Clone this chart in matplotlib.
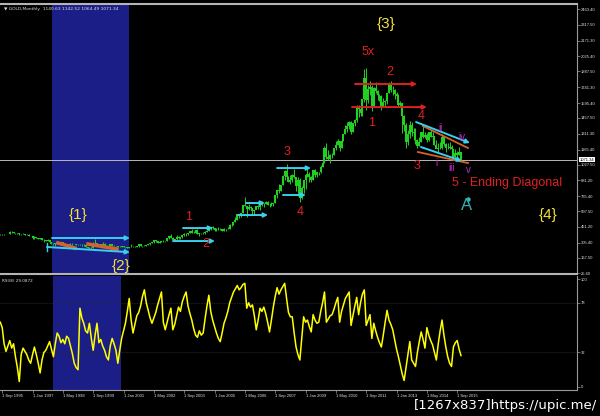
import numpy as np
import matplotlib.pyplot as plt

# GOLD monthly, Aug 1995 .. Nov 2015 (one value per bar)
closes = [382, 384, 383, 387, 387,
          405, 400, 396, 392, 391, 382, 385, 387, 379, 379, 371, 369,
          345, 358, 348, 340, 345, 334, 326, 325, 332, 311, 296, 290,
          304, 297, 301, 310, 293, 296, 289, 273, 294, 292, 294, 288,
          287, 287, 280, 286, 268, 261, 255, 255, 299, 299, 292, 290,
          283, 293, 278, 275, 273, 289, 276, 277, 273, 264, 270, 273,
          265, 267, 258, 264, 266, 270, 265, 273, 293, 279, 275, 277,
          282, 297, 302, 308, 326, 318, 304, 312, 324, 317, 319, 347,
          368, 347, 334, 336, 361, 346, 354, 375, 388, 384, 398, 417,
          399, 396, 426, 388, 394, 395, 391, 408, 416, 429, 453, 438,
          422, 434, 428, 435, 417, 435, 429, 433, 473, 470, 495, 513,
          568, 556, 582, 654, 643, 613, 633, 624, 599, 604, 646, 632,
          651, 665, 663, 679, 656, 650, 666, 672, 743, 789, 783, 834,
          923, 971, 916, 864, 885, 928, 913, 833, 880, 718, 814, 882,
          927, 942, 916, 883, 979, 927, 955, 955, 1001, 1040, 1182, 1097,
          1081, 1118, 1113, 1179, 1212, 1244, 1181, 1246, 1307, 1357, 1384, 1421,
          1332, 1410, 1439, 1556, 1536, 1500, 1628, 1826, 1620, 1722, 1746, 1564,
          1737, 1709, 1668, 1664, 1560, 1604, 1614, 1687, 1773, 1719, 1713, 1675,
          1663, 1578, 1597, 1472, 1393, 1234, 1313, 1396, 1327, 1323, 1253, 1202,
          1240, 1326, 1284, 1296, 1250, 1327, 1282, 1287, 1210, 1172, 1183, 1184,
          1283, 1213, 1183, 1183, 1190, 1172, 1095, 1134, 1115, 1140.63, 1071.34]
highs = [390, 387, 387, 390, 389,
         418, 416, 404, 398, 394, 392, 389, 391, 388, 386, 383, 372,
         369, 366, 360, 348, 351, 347, 336, 330, 336, 335, 311, 301,
         307, 306, 303, 316, 310, 300, 298, 289, 300, 299, 298, 298,
         292, 291, 290, 293, 290, 268, 263, 262, 311, 340, 301, 297,
         292, 316, 302, 287, 279, 294, 291, 282, 279, 274, 271, 276,
         274, 269, 270, 264, 291, 272, 271, 279, 294, 293, 278, 281,
         286, 298, 303, 309, 328, 332, 322, 317, 325, 328, 324, 349,
         370, 389, 355, 341, 377, 366, 361, 377, 391, 392, 399, 417,
         429, 411, 427, 428, 395, 399, 409, 416, 418, 430, 455, 457,
         437, 438, 446, 437, 436, 443, 430, 447, 474, 475, 497, 539,
         575, 574, 584, 654, 730, 645, 663, 649, 627, 604, 649, 650,
         656, 690, 672, 692, 687, 671, 684, 674, 746, 795, 845, 838,
         933, 974, 1032, 922, 935, 944, 988, 915, 912, 905, 826, 884,
         930, 1007, 961, 917, 980, 990, 961, 962, 1024, 1070, 1195, 1227,
         1161, 1127, 1135, 1180, 1249, 1265, 1212, 1251, 1308, 1388, 1424, 1431,
         1425, 1411, 1448, 1575, 1577, 1554, 1632, 1912, 1920, 1760, 1803, 1764,
         1745, 1790, 1712, 1676, 1669, 1641, 1627, 1692, 1790, 1796, 1754, 1722,
         1694, 1675, 1616, 1599, 1488, 1415, 1347, 1434, 1424, 1361, 1362, 1267,
         1280, 1332, 1392, 1331, 1315, 1332, 1345, 1324, 1287, 1255, 1223, 1238,
         1307, 1294, 1224, 1224, 1232, 1205, 1174, 1170, 1157, 1191, 1142.52]
lows = [380, 381, 381, 382, 384,
        387, 394, 393, 388, 389, 380, 380, 384, 378, 375, 368, 365,
        344, 342, 345, 338, 340, 331, 313, 318, 320, 308, 290, 283,
        279, 289, 290, 300, 292, 283, 287, 271, 273, 287, 291, 286,
        283, 283, 278, 279, 268, 257, 252, 252, 254, 295, 290, 285,
        281, 284, 276, 274, 265, 272, 275, 273, 269, 263, 262, 265,
        262, 256, 255, 254, 262, 264, 264, 267, 269, 278, 270, 274,
        277, 281, 287, 300, 307, 311, 302, 302, 310, 316, 313, 317,
        343, 345, 320, 325, 335, 342, 343, 353, 370, 370, 379, 398,
        392, 391, 391, 386, 371, 382, 387, 386, 401, 414, 427, 430,
        418, 411, 426, 423, 414, 415, 418, 429, 433, 459, 469, 493,
        517, 538, 540, 582, 645, 542, 607, 613, 560, 563, 616, 615,
        603, 645, 637, 663, 652, 637, 648, 647, 671, 722, 762, 784,
        834, 880, 906, 865, 849, 863, 905, 786, 736, 681, 705, 769,
        801, 916, 865, 865, 883, 915, 908, 930, 948, 1003, 1044, 1075,
        1073, 1044, 1088, 1115, 1165, 1205, 1155, 1176, 1242, 1313, 1332, 1357,
        1308, 1327, 1381, 1419, 1462, 1478, 1479, 1604, 1534, 1599, 1668, 1523,
        1562, 1692, 1627, 1612, 1527, 1556, 1555, 1589, 1687, 1701, 1672, 1636,
        1626, 1555, 1565, 1321, 1338, 1180, 1206, 1270, 1291, 1251, 1221, 1182,
        1202, 1238, 1277, 1268, 1240, 1241, 1282, 1274, 1206, 1183, 1132, 1170,
        1167, 1198, 1142, 1175, 1169, 1162, 1077, 1080, 1099, 1111, 1064.49]
first_open = 384

rsi = [60, 55, 40, 33, 38, 43, 36, 40, 28, 18, 5, 30, 36, 33, 30, 25, 22, 30, 37, 30,
       22, 13, 25, 32, 34, 38, 42, 35, 28, 40, 50, 47, 41, 44, 40, 47, 45, 38, 31, 22,
       18, 16, 73, 64, 59, 52, 50, 59, 45, 34, 48, 59, 41, 44, 38, 34, 28, 25, 38, 45,
       40, 34, 22, 34, 45, 52, 59, 70, 82, 62, 50, 58, 66, 69, 75, 84, 90, 78, 71, 64,
       59, 64, 69, 76, 82, 88, 60, 53, 60, 67, 73, 53, 58, 66, 74, 70, 79, 84, 88, 75,
       68, 62, 54, 48, 46, 52, 48, 50, 63, 75, 85, 70, 62, 56, 50, 45, 42, 50, 59, 64,
       70, 78, 83, 88, 91, 94, 90, 92, 95, 96, 73, 78, 74, 76, 66, 53, 62, 73, 70, 74,
       68, 60, 51, 62, 74, 84, 92, 86, 90, 93, 96, 82, 69, 65, 65, 50, 37, 30, 25, 45,
       65, 60, 62, 56, 51, 67, 62, 59, 60, 70, 78, 88, 60, 63, 66, 67, 72, 78, 83, 60,
       70, 76, 82, 85, 88, 57, 66, 75, 83, 67, 78, 86, 90, 57, 62, 67, 45, 59, 52, 46,
       41, 37, 48, 60, 71, 62, 58, 53, 44, 35, 28, 20, 12, 6, 18, 30, 42, 25, 22, 19,
       32, 42, 51, 44, 36, 55, 48, 43, 39, 32, 25, 40, 52, 62, 48, 37, 28, 22, 19, 37,
       41, 43, 35, 29.09]

price_ticks = [2463.40, 2317.50, 2171.30, 2025.40, 1887.50, 1741.30, 1595.40, 1457.50,
               1311.30, 1165.40, 1027.50, 881.20, 735.40, 597.50, 451.20, 305.40, 167.50, 25.60]
rsi_ticks = [100, 78, 32, 0]
date_pos = [1, 17, 33, 49, 65, 81, 97, 113, 129, 145, 161, 177, 193, 209, 225, 241]
date_labels = ['1 Sep 1995', '1 Jan 1997', '1 May 1998', '1 Sep 1999', '1 Jan 2001',
               '1 May 2002', '1 Sep 2003', '1 Jan 2005', '1 May 2006', '1 Sep 2007',
               '1 Jan 2009', '1 May 2010', '1 Sep 2011', '1 Jan 2013', '1 May 2014',
               '1 Sep 2015']
last_price = 1071.34

GREEN = '#22d022'
CYAN = '#38d0ec'
RED = '#e02020'
YEL = '#f2e23a'
MAG = '#c428c8'
ORANGE = '#d8602a'
NAVY = '#1c1e88'
GRID = '#9a9a9a'

plt.rcParams['font.family'] = ['Liberation Sans', 'DejaVu Sans']

fig = plt.figure(figsize=(6, 4.16), dpi=100, facecolor='black')
ax = fig.add_axes([0, 0.3413, 0.9617, 0.649])
ax2 = fig.add_axes([0, 0.0625, 0.9617, 0.274])

n = len(closes)
idx = np.arange(n)
opens = np.r_[first_open, closes[:-1]]
xlim = (-0.16, 304.2)

for a in (ax, ax2):
    a.set_facecolor('black')
    a.set_xlim(*xlim)
    a.spines['left'].set_visible(False)
    a.spines['right'].set_color(GRID)
    a.yaxis.tick_right()
    a.tick_params(axis='y', colors=GRID, labelcolor='#e0e0e0', labelsize=3,
                  length=2, width=0.5, pad=1)

# main price window
ax.set_ylim(16.4, 2509.5)
ax.spines['top'].set_color('#b4b4b4')
ax.spines['top'].set_linewidth(1.5)
ax.spines['bottom'].set_color('#b4b4b4')
ax.spines['bottom'].set_linewidth(1.5)
ax.set_xticks([])
ax.set_yticks(price_ticks)
ax.set_yticklabels(['%.2f' % v for v in price_ticks])
ax.axvspan(27.3, 67.9, color=NAVY, lw=0, zorder=0)
ax.axhline(last_price, color='#b8b8b8', lw=0.7, zorder=1)

ax.vlines(idx, lows, highs, color=GREEN, lw=0.7, zorder=3)
ax.vlines(idx, np.minimum(opens, closes), np.maximum(opens, closes),
          color=GREEN, lw=1.5, zorder=3)

ax.text(1.005, (last_price - 16.4) / (2509.5 - 16.4), '%.2f' % last_price,
        transform=ax.transAxes, fontsize=3, color='black', va='center', ha='left',
        bbox=dict(boxstyle='square,pad=0.15', fc='white', ec='none'), clip_on=False)


def arrow(a, x0, y0, x1, y1, color):
    a.annotate('', xy=(x1, y1), xytext=(x0, y0), zorder=5,
               arrowprops=dict(arrowstyle='-|>', color=color, lw=1.4,
                               mutation_scale=6, shrinkA=0, shrinkB=0))


# channel / target lines
ax.plot([30.4, 39.4], [303, 256], color=ORANGE, lw=2.6, zorder=4)
ax.plot([46.3, 61.5], [293, 247], color=ORANGE, lw=2.6, zorder=4)
ax.plot([24.6, 24.6], [225, 300], color=CYAN, lw=1.0, zorder=5)
ax.plot([222.9, 246.7], [1383, 1180], color=ORANGE, lw=1.3, zorder=4)
ax.plot([220.3, 246.7], [1143, 1041], color=ORANGE, lw=1.3, zorder=4)
for x0, y0, x1, y1 in [(27.3, 349, 68.4, 349), (24.6, 266, 68.4, 218),
                       (96.4, 441, 112.2, 441), (91.1, 321, 113.2, 321),
                       (129.6, 672, 139.6, 672), (125.4, 561, 141.2, 561),
                       (146.0, 995, 163.9, 995), (149.1, 746, 161.2, 746),
                       (219.3, 1420, 247.7, 1226), (221.9, 1189, 243.5, 1060)]:
    arrow(ax, x0, y0, x1, y1, CYAN)
arrow(ax, 187.1, 1771, 219.8, 1771, RED)
arrow(ax, 185.5, 1558, 225.0, 1558, RED)
ax.plot([246.7], [709], 'o', color='#30b8b8', ms=2.2, zorder=5)

# wave labels
for t, x, y in [('{1}', 41, 561), ('{2}', 63.7, 90), ('{3}', 203.4, 2325),
                ('{4}', 288.9, 561)]:
    ax.text(x, y, t, color=YEL, fontsize=11, ha='center', va='center', zorder=6)
for t, x, y in [('5x', 193.9, 2066), ('2', 205.5, 1882), ('1', 196, 1411),
                ('4', 221.9, 1475), ('3', 219.8, 1013), ('3', 151.2, 1143),
                ('4', 158.1, 589), ('1', 99.5, 543), ('2', 108.5, 290)]:
    ax.text(x, y, t, color=RED, fontsize=9, ha='center', va='center', zorder=6)
for t, x, y in [('i', 230.3, 1041), ('ii', 232.4, 1364), ('iii', 238.2, 995),
                ('iv', 243.5, 1281), ('v', 246.7, 977)]:
    ax.text(x, y, t, color=MAG, fontsize=7, ha='center', va='center', zorder=6)
ax.text(267.3, 857, '5 - Ending Diagonal', color=RED, fontsize=9,
        ha='center', va='center', zorder=6)
ax.text(246.1, 653, 'A', color='#30b0b0', fontsize=12, ha='center', va='center', zorder=6)

# RSI window
ax2.set_ylim(-2.8, 102.8)
ax2.spines['top'].set_visible(False)
ax2.spines['bottom'].set_color(GRID)
ax2.axvspan(27.8, 63.7, color=NAVY, lw=0, zorder=0)
for lvl in (78, 32):
    ax2.axhline(lvl, color='#2a2a3a', lw=0.6, ls=(0, (1, 1)), zorder=1)
ax2.plot(idx, rsi, color='#ffff00', lw=1.1, zorder=3)
ax2.set_yticks(rsi_ticks)
ax2.set_yticklabels([str(v) for v in rsi_ticks])
ax2.set_xticks(date_pos)
ax2.set_xticklabels(date_labels)
ax2.tick_params(axis='x', colors=GRID, labelcolor='#e0e0e0', labelsize=3,
                length=2, width=0.5, pad=1)
for lab in ax2.get_xticklabels():
    lab.set_horizontalalignment('left')
ax2.text(0.004, 0.955, 'RSI(8) 29.0872', transform=ax2.transAxes, fontsize=3,
         color='#e0e0e0', va='center', ha='left', family='DejaVu Sans')

fig.text(0.006, 1 - 9 / 416, '\u25bc GOLD,Monthly  1140.63 1142.52 1064.49 1071.34',
         fontsize=3.2, color='#e0e0e0', va='center', family='DejaVu Sans')
fig.text(0.995, 1 - 406 / 416, '[1267x837]https://upic.me/', fontsize=9.5,
         color='white', ha='right', va='center', family='DejaVu Sans')

fig.savefig('out.png', dpi=100, facecolor='black')
